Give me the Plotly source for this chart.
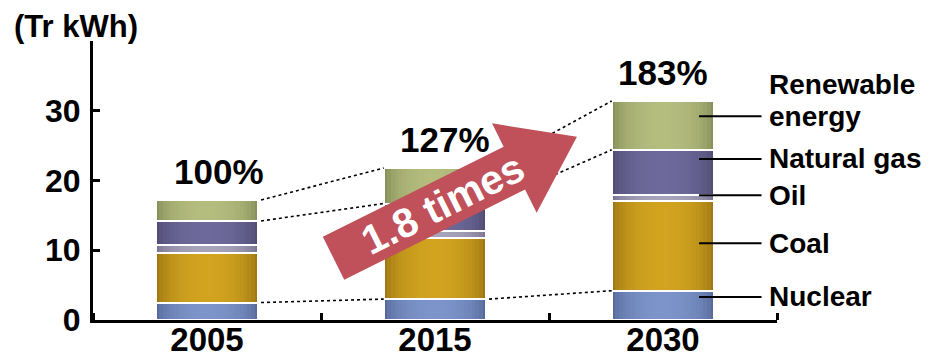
import numpy as np
import plotly.graph_objects as go

# ---------------- data ----------------
years = ["2005", "2015", "2030"]
nuclear = [2.5, 3.0, 4.2]
coal = [7.1, 8.7, 12.9]
oil = [1.1, 1.0, 0.8]
natural_gas = [3.5, 4.0, 6.5]
renewable = [3.0, 5.1, 7.0]
share_labels = ["100%", "127%", "183%"]
source_names = ["Nuclear", "Coal", "Oil", "Natural gas", "Renewable energy"]
growth_label = "1.8 times"
unit_label = "(Tr kWh)"
y_tick_values = [0, 10, 20, 30]

# ---------------- styling ----------------
FONT = "Liberation Sans, Arial, sans-serif"
seg_colors = [  # (edge, centre)
    ("#4a5b8b", "#7c94c9"),   # nuclear
    ("#8b690f", "#d1a31f"),   # coal
    ("#6a6684", "#a7a3bb"),   # oil
    ("#474366", "#6d699a"),   # natural gas
    ("#788050", "#b4bd7e"),   # renewable
]
ARROW_COLOR = "#c0505a"
BAR_W = 0.45
N_LAYERS = 14

# the page body has an 8px default margin; size the figure so it fills the window
BODY = 8
W, H = 931 - BODY, 357 - BODY
ML, MR, MT, MB = 93 - BODY, 154, 41 - BODY, 37
pw, ph = W - ML - MR, H - MT - MB


def hex2rgb(h):
    h = h.lstrip("#")
    return np.array([int(h[i:i + 2], 16) for i in (0, 2, 4)], dtype=float)


def mix(c1, c2, t):
    a, b = hex2rgb(c1), hex2rgb(c2)
    c = a + (b - a) * t
    return "rgb(%d,%d,%d)" % tuple(np.round(c))


segments = [nuclear, coal, oil, natural_gas, renewable]
x = np.arange(len(years))
bases = []
cum = np.zeros(len(years))
for seg in segments:
    bases.append(cum.copy())
    cum = cum + np.array(seg)
totals = cum

fig = go.Figure()

# shaded (cylinder-like) stacked segments
for seg, base, (edge, centre), name in zip(segments, bases, seg_colors, source_names):
    for k in range(N_LAYERS):
        r = 1 - k / N_LAYERS
        rm = max(r - 0.5 / N_LAYERS, 0)
        t = np.sqrt(max(1 - rm ** 2, 0))
        fig.add_trace(go.Bar(
            x=x, y=seg, base=base, width=BAR_W * r,
            marker=dict(color=mix(edge, centre, t), line=dict(width=0)),
            name=name, showlegend=False, hoverinfo="skip"))
# white separators
for seg, base, name in zip(segments, bases, source_names):
    fig.add_trace(go.Bar(
        x=x, y=seg, base=base, width=BAR_W,
        marker=dict(color="rgba(0,0,0,0)", line=dict(color="white", width=2)),
        name=name, showlegend=False, hoverinfo="skip"))

# dotted connectors between bars (nuclear top, natural-gas top, total)
levels = [bases[1], bases[4], totals]
dx, dy = [], []
for lev in levels:
    for i in range(len(years) - 1):
        dx += [x[i] + BAR_W / 2 + 0.012, x[i + 1] - BAR_W / 2, None]
        dy += [lev[i], lev[i + 1], None]
fig.add_trace(go.Scatter(x=dx, y=dy, mode="lines",
                         line=dict(color="black", width=1.6, dash="dot"),
                         showlegend=False, hoverinfo="skip"))

annotations = []
shapes = []

# share labels above bars
for i, lab in enumerate(share_labels):
    annotations.append(dict(x=x[i], y=totals[i], xref="x", yref="y", text=lab,
                            showarrow=False, yanchor="bottom", yshift=7,
                            xshift=[12, 10, 0][i],
                            font=dict(family=FONT, size=35, color="black", weight="bold")))

# big growth arrow (pixel-sized path anchored in data space)
theta = np.deg2rad(26.5)
u = np.array([np.cos(theta), np.sin(theta)])
n = np.array([-np.sin(theta), np.cos(theta)])
body_h, head_h, head_base, tip = 24, 50, 202, 272
pts_ab = [(0, -body_h), (head_base, -body_h), (head_base, -head_h), (tip, 0),
          (head_base, head_h), (head_base, body_h), (0, body_h)]
pts = [a * u + b * n for a, b in pts_ab]
path = "M " + " L ".join("%.1f,%.1f" % (p[0], p[1]) for p in pts) + " Z"
ax_anchor, ay_anchor = 0.555, 8.85
shapes.append(dict(type="path", path=path, xref="x", yref="y",
                   xsizemode="pixel", ysizemode="pixel",
                   xanchor=ax_anchor, yanchor=ay_anchor,
                   fillcolor=ARROW_COLOR, line=dict(width=0), layer="above"))
c = 122 * u
annotations.append(dict(x=ax_anchor, y=ay_anchor, xref="x", yref="y",
                        xshift=c[0], yshift=c[1], text=growth_label, showarrow=False,
                        textangle=-np.rad2deg(theta),
                        font=dict(family=FONT, size=41, color="white", weight="bold")))

# right-hand labels with leader lines (label heights in data units)
label_y = [3.3, 11.0, 17.9, 23.1, 29.2]
for name, ly in zip(source_names, label_y):
    shapes.append(dict(type="line", xref="x", yref="y", x0=2.158, x1=2.432,
                       y0=ly, y1=ly, line=dict(color="black", width=2), layer="above"))
    lines = name.split(" ") if name == "Renewable energy" else [name]
    for j, txt in enumerate(reversed(lines)):
        annotations.append(dict(x=2.455, y=ly, xref="x", yref="y", text=txt,
                                showarrow=False, xanchor="left", yanchor="middle",
                                yshift=j * 32,
                                font=dict(family=FONT, size=28, color="black", weight="bold")))

# unit label (reference position ~ x 12px, y 26px from window corner)
annotations.append(dict(x=(12 - 93) / pw, y=(320 - 26) / ph, xref="paper", yref="paper",
                        text=unit_label, showarrow=False, xanchor="left", yanchor="middle",
                        font=dict(family=FONT, size=31, color="black", weight="bold")))

fig.update_layout(
    width=W, height=H,
    margin=dict(l=ML, r=MR, t=MT, b=MB, pad=0, autoexpand=False),
    barmode="overlay", bargap=0,
    plot_bgcolor="white", paper_bgcolor="white",
    showlegend=False,
    annotations=annotations, shapes=shapes,
    font=dict(family=FONT, color="black"),
)
fig.update_xaxes(
    range=[-0.5, 2.5], showgrid=False, zeroline=False, automargin=False,
    showline=True, linecolor="black", linewidth=3, layer="below traces",
    tickmode="array", tickvals=list(x), ticktext=years, ticks="",
    ticklabelstandoff=-12,
    tickfont=dict(family=FONT, size=33, color="black", weight="bold"),
    minor=dict(tickmode="array", tickvals=[-0.5, 0.5, 1.5, 2.5], ticks="inside",
               ticklen=7, tickwidth=3, tickcolor="black", showgrid=False),
    fixedrange=True,
)
fig.update_yaxes(
    range=[0, 40], showgrid=False, zeroline=False, automargin=False,
    showline=True, linecolor="black", linewidth=3, layer="below traces",
    tickmode="array", tickvals=y_tick_values + [40],
    ticktext=[str(v) for v in y_tick_values] + [""],
    ticks="inside", ticklen=7, tickwidth=3, tickcolor="black",
    ticklabelstandoff=3,
    tickfont=dict(family=FONT, size=32, color="black", weight="bold"),
    fixedrange=True,
)

fig.write_html("out.html")
